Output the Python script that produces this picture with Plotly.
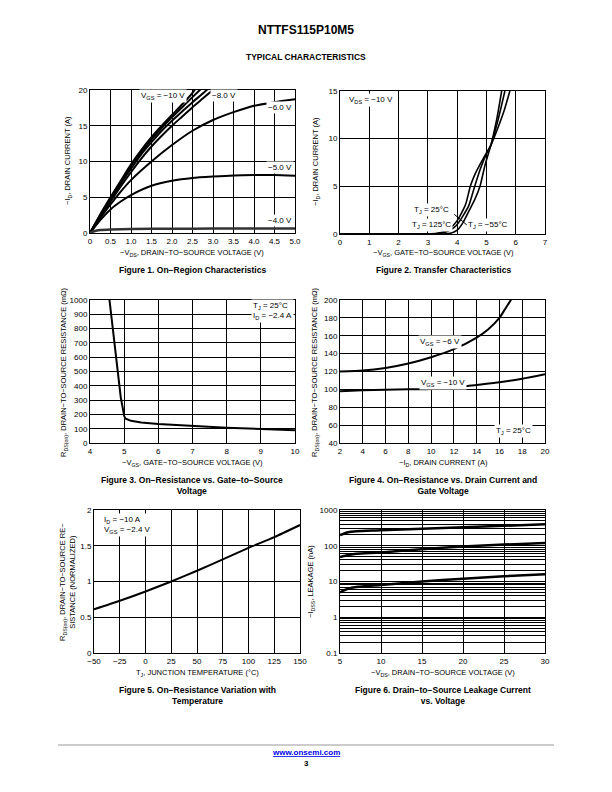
import plotly.graph_objects as go

W, H = 612, 792
FONT = "Liberation Sans, Arial, Helvetica, sans-serif"
OFF = 8  # page offset of the plot inside the browser window

# ---------------- Figure 1 data: On-region characteristics ----------------
f1_vgs10_x = [0, 0.25, 0.5, 0.75, 1.0, 1.25, 1.5, 1.75, 2.0, 2.25, 2.5, 2.6]
f1_vgs10_y = [0, 2.6, 5.0, 7.3, 9.6, 11.6, 13.4, 15.0, 16.5, 18.0, 19.6, 20.4]
f1_vgs9_x = [0, 0.25, 0.5, 0.75, 1.0, 1.25, 1.5, 1.75, 2.0, 2.25, 2.5, 2.75]
f1_vgs9_y = [0, 2.5, 4.85, 7.1, 9.3, 11.3, 13.1, 14.7, 16.2, 17.6, 19.0, 20.4]
f1_vgs8_x = [0, 0.25, 0.5, 0.75, 1.0, 1.25, 1.5, 1.75, 2.0, 2.25, 2.5, 2.75, 2.9]
f1_vgs8_y = [0, 2.4, 4.7, 6.9, 9.0, 11.0, 12.7, 14.3, 15.7, 17.0, 18.3, 19.5, 20.3]
f1_vgs7_x = [0, 0.25, 0.5, 0.75, 1.0, 1.25, 1.5, 1.75, 2.0, 2.25, 2.5, 2.75, 3.0, 3.1]
f1_vgs7_y = [0, 2.3, 4.4, 6.5, 8.5, 10.4, 12.1, 13.6, 15.0, 16.3, 17.6, 18.8, 20.0, 20.4]
f1_vgs6_x = [0, 0.25, 0.5, 0.75, 1.0, 1.5, 2.0, 2.5, 3.0, 3.5, 4.0, 4.5, 5.0]
f1_vgs6_y = [0, 2.1, 4.0, 5.8, 7.4, 10.0, 12.3, 14.3, 15.8, 16.9, 17.8, 18.3, 18.7]
f1_vgs5_x = [0, 0.25, 0.5, 0.75, 1.0, 1.5, 2.0, 2.5, 3.0, 3.5, 4.0, 4.5, 5.0]
f1_vgs5_y = [0, 1.8, 3.3, 4.4, 5.3, 6.6, 7.3, 7.7, 7.9, 8.05, 8.1, 8.1, 8.0]
f1_vgs4_x = [0, 0.1, 0.25, 0.5, 1.0, 2.0, 3.0, 4.0, 5.0]
f1_vgs4_y = [0, 0.25, 0.42, 0.5, 0.55, 0.6, 0.62, 0.63, 0.63]
f1_xticks = [0, 0.5, 1.0, 1.5, 2.0, 2.5, 3.0, 3.5, 4.0, 4.5, 5.0]
f1_xticklabels = ["0", "0.5", "1.0", "1.5", "2.0", "2.5", "3.0", "3.5", "4.0", "4.5", "5.0"]
f1_yticks = [0, 5, 10, 15, 20]

# ---------------- Figure 2 data: Transfer characteristics ----------------
f2_t125_x = [0, 3.0, 3.3, 3.6, 3.8, 4.0, 4.2, 4.3, 4.45, 4.6, 4.8, 5.0, 5.15, 5.4, 5.6, 5.8]
f2_t125_y = [0, 0.02, 0.08, 0.3, 0.7, 1.4, 2.5, 3.2, 5.0, 6.2, 7.4, 8.5, 9.3, 11.2, 12.9, 15.0]
f2_t25_x = [0, 3.0, 3.4, 3.7, 3.9, 4.0, 4.2, 4.4, 4.6, 4.8, 5.0, 5.15, 5.4, 5.63]
f2_t25_y = [0, 0.0, 0.05, 0.3, 0.7, 1.0, 1.9, 3.0, 5.0, 6.9, 8.4, 9.3, 12.0, 15.0]
f2_tm55_x = [0, 3.5, 3.8, 4.0, 4.2, 4.4, 4.6, 4.78, 4.95, 5.15, 5.35, 5.52]
f2_tm55_y = [0, 0.0, 0.1, 0.4, 1.2, 2.4, 3.6, 5.0, 7.2, 9.3, 12.0, 15.0]
f2_xticks = [0, 1, 2, 3, 4, 5, 6, 7]
f2_yticks = [0, 5, 10, 15]

# ---------------- Figure 3 data: RDS(on) vs VGS ----------------
f3_x = [4.57, 4.7, 4.8, 4.9, 5.0, 5.03, 5.2, 5.5, 6.0, 7.0, 8.0, 9.0, 10.0]
f3_y = [1000, 720, 500, 320, 190, 172, 155, 143, 132, 117, 106, 98, 90]
f3_xticks = [4, 5, 6, 7, 8, 9, 10]
f3_yticks = [0, 100, 200, 300, 400, 500, 600, 700, 800, 900, 1000]

# ---------------- Figure 4 data: RDS(on) vs ID ----------------
f4_vgs6_x = [2, 4, 6, 8, 10, 12, 14, 15, 16, 16.5, 17, 17.2]
f4_vgs6_y = [120, 121, 124, 129, 136, 145, 158, 167, 180, 190, 200, 205]
f4_vgs10_x = [2, 4, 6, 8, 10, 12, 14, 16, 18, 20]
f4_vgs10_y = [98, 99, 99.5, 100, 100.5, 102, 105, 108, 112, 117]
f4_xticks = [2, 4, 6, 8, 10, 12, 14, 16, 18, 20]
f4_yticks = [40, 60, 80, 100, 120, 140, 160, 180, 200]

# ---------------- Figure 5 data: RDS(on) vs TJ ----------------
f5_x = [-50, -25, 0, 25, 50, 75, 100, 125, 150]
f5_y = [0.61, 0.73, 0.86, 1.0, 1.15, 1.31, 1.47, 1.62, 1.79]
f5_xticks = [-50, -25, 0, 25, 50, 75, 100, 125, 150]
f5_yticks = [0, 0.5, 1, 1.5, 2]

# ---------------- Figure 6 data: IDSS leakage ----------------
f6_t150_x = [5, 6, 7, 10, 15, 20, 25, 30]
f6_t150_y = [200, 240, 255, 270, 300, 330, 360, 400]
f6_t125_x = [5, 6, 7, 10, 15, 20, 25, 30]
f6_t125_y = [48, 55, 60, 65, 80, 95, 108, 120]
f6_t85_x = [5, 6, 7, 10, 15, 20, 25, 30]
f6_t85_y = [5, 6.3, 7, 8, 10, 12, 14, 16]
f6_xticks = [5, 10, 15, 20, 25, 30]
f6_yticks = [0.1, 1, 10, 100, 1000]
f6_yticklabels = ["0.1", "1", "10", "100", "1000"]


def px(x):
    return (x - OFF) / W


def py(y):
    return 1 - (y - OFF) / H


fig = go.Figure()

LINE = dict(color="black", width=2)


def add(xs, ys, n, width=2, color="black"):
    fig.add_trace(go.Scatter(x=xs, y=ys, mode="lines", xaxis="x" + n, yaxis="y" + n,
                             line=dict(color=color, width=width, shape="spline", smoothing=0.6),
                             showlegend=False, hoverinfo="skip"))


add(f1_vgs10_x, f1_vgs10_y, "")
add(f1_vgs9_x, f1_vgs9_y, "")
add(f1_vgs8_x, f1_vgs8_y, "")
add(f1_vgs7_x, f1_vgs7_y, "")
add(f1_vgs6_x, f1_vgs6_y, "")
add(f1_vgs5_x, f1_vgs5_y, "")
add(f1_vgs4_x, f1_vgs4_y, "", width=2.5, color="#333333")

add(f2_t125_x, f2_t125_y, "2", width=1.6)
add(f2_t25_x, f2_t25_y, "2", width=1.6)
add(f2_tm55_x, f2_tm55_y, "2", width=1.6)

fig.add_trace(go.Scatter(x=f3_x, y=f3_y, mode="lines", xaxis="x3", yaxis="y3",
                         line=LINE, showlegend=False, hoverinfo="skip"))

add(f4_vgs6_x, f4_vgs6_y, "4")
add(f4_vgs10_x, f4_vgs10_y, "4")

add(f5_x, f5_y, "5")

add(f6_t150_x, f6_t150_y, "6", width=2.5)
add(f6_t125_x, f6_t125_y, "6", width=2.5)
add(f6_t85_x, f6_t85_y, "6", width=2.5)

TICKFONT = dict(family=FONT, size=8, color="black")


def axes(n, xd, yd, xr, yr, xt, yt, xtl=None, ytl=None, ylog=False):
    xa = dict(domain=[px(xd[0]), px(xd[1])], range=xr, anchor="y" + n,
              tickvals=xt, showgrid=True, gridcolor="black", gridwidth=1,
              showline=True, mirror=True, linecolor="black", linewidth=1,
              ticks="", tickfont=TICKFONT, zeroline=False, fixedrange=True,
              automargin=False)
    if xtl:
        xa["ticktext"] = xtl
    ya = dict(domain=[py(yd[1]), py(yd[0])], range=yr, anchor="x" + n,
              tickvals=yt, showgrid=True, gridcolor="black", gridwidth=1,
              showline=True, mirror=True, linecolor="black", linewidth=1,
              ticks="", tickfont=TICKFONT, zeroline=False, fixedrange=True,
              automargin=False)
    if ytl:
        ya["ticktext"] = ytl
    if ylog:
        ya["type"] = "log"
        ya["minor"] = dict(dtick="D1", showgrid=True, gridcolor="black", gridwidth=1)
    fig.update_layout(**{"xaxis" + n: xa, "yaxis" + n: ya})


axes("", (90, 295), (90, 233), [0, 5], [0, 20], f1_xticks, f1_yticks, f1_xticklabels)
axes("2", (340, 545), (91, 234), [0, 7], [0, 15], f2_xticks, f2_yticks)
axes("3", (90, 295), (300, 443), [4, 10], [0, 1000], f3_xticks, f3_yticks)
axes("4", (340, 545), (300, 443), [2, 20], [40, 200], f4_xticks, f4_yticks)
axes("5", (94, 300), (510, 653), [-50, 150], [0, 2], f5_xticks, f5_yticks)
axes("6", (340, 545), (510, 653), [5, 30], [-1, 3], f6_xticks, f6_yticks, None, f6_yticklabels, ylog=True)

ann = []


def T(x, y, text, size=8, bold=False, angle=0, color="black", xanchor="center", yanchor="middle"):
    if bold:
        text = "<b>" + text + "</b>"
    ann.append(dict(x=px(x), y=py(y), xref="paper", yref="paper", text=text, showarrow=False,
                    textangle=angle, font=dict(family=FONT, size=size, color=color),
                    xanchor=xanchor, yanchor=yanchor, align="center"))


def D(n, x, y, text, xanchor="center", align="center"):
    ann.append(dict(x=x, y=y, xref="x" + n, yref="y" + n, text=text, showarrow=False,
                    font=dict(family=FONT, size=8, color="black"), bgcolor="white",
                    xanchor=xanchor, yanchor="middle", align=align, borderpad=1))


# Header
T(306, 30, "NTTFS115P10M5", size=12, bold=True)
T(306, 57, "TYPICAL CHARACTERISTICS", size=8.5, bold=True)

# Figure 1
T(68, 161, "−I<sub>D</sub>, DRAIN CURRENT (A)", angle=-90, size=7.5)
T(192, 253, "−V<sub>DS</sub>, DRAIN−TO−SOURCE VOLTAGE (V)", size=7.5)
T(192, 270, "Figure 1. On−Region Characteristics", size=8.5, bold=True)
D("", 1.78, 19.2, "V<sub>GS</sub> = −10 V")
D("", 3.28, 19.3, "−8.0 V")
D("", 4.63, 17.5, "−6.0 V")
D("", 4.63, 9.1, "−5.0 V")
D("", 4.63, 1.8, "−4.0 V")

# Figure 2
T(316, 162, "−I<sub>D</sub>, DRAIN CURRENT (A)", angle=-90, size=7.5)
T(443, 253, "−V<sub>GS</sub>, GATE−TO−SOURCE VOLTAGE (V)", size=7.5)
T(443, 270, "Figure 2. Transfer Characteristics", size=8.5, bold=True)
D("2", 0.25, 14.1, "V<sub>DS</sub> = −10 V", xanchor="left")
D("2", 3.13, 2.5, "T<sub>J</sub> = 25°C")
D("2", 3.13, 0.95, "T<sub>J</sub> = 125°C")
D("2", 5.05, 0.95, "T<sub>J</sub> = −55°C")
ann.append(dict(x=4.33, y=0.95, xref="x2", yref="y2", ax=3.85, ay=2.2, axref="x2", ayref="y2",
                showarrow=True, arrowhead=0, arrowwidth=1, arrowcolor="black", text=""))

# Figure 3
T(64, 372, "R<sub>DS(on)</sub>, DRAIN−TO−SOURCE RESISTANCE (mΩ)", angle=-90, size=7.5)
T(192, 463, "−V<sub>GS</sub>, GATE−TO−SOURCE VOLTAGE (V)", size=7.5)
T(192, 486, "Figure 3. On−Resistance vs. Gate−to−Source<br>Voltage", size=8.5, bold=True)
D("3", 8.72, 920, "T<sub>J</sub> = 25°C<br>I<sub>D</sub> = −2.4 A", xanchor="left", align="left")

# Figure 4
T(315, 372, "R<sub>DS(on)</sub>, DRAIN−TO−SOURCE RESISTANCE (mΩ)", angle=-90, size=7.5)
T(443, 463, "−I<sub>D</sub>, DRAIN CURRENT (A)", size=7.5)
T(443, 486, "Figure 4. On−Resistance vs. Drain Current and<br>Gate Voltage", size=8.5, bold=True)
D("4", 10.8, 153, "V<sub>GS</sub> = −6 V")
D("4", 11.0, 107, "V<sub>GS</sub> = −10 V")
D("4", 17.2, 53, "T<sub>J</sub> = 25°C")

# Figure 5
T(67, 582, "R<sub>DS(on)</sub>, DRAIN−TO−SOURCE RE−<br>SISTANCE (NORMALIZED)", angle=-90, size=7.5)
T(197, 673, "T<sub>J</sub>, JUNCTION TEMPERATURE (°C)", size=7.5)
T(197, 695, "Figure 5. On−Resistance Variation with<br>Temperature", size=8.5, bold=True)
D("5", -42, 1.79, "I<sub>D</sub> = −10 A<br>V<sub>GS</sub> = −2.4 V", xanchor="left", align="left")

# Figure 6
T(311, 582, "−I<sub>DSS</sub>, LEAKAGE (nA)", angle=-90, size=7.5)
T(443, 673, "−V<sub>DS</sub>, DRAIN−TO−SOURCE VOLTAGE (V)", size=7.5)
T(443, 695, "Figure 6. Drain−to−Source Leakage Current<br>vs. Voltage", size=8.5, bold=True)
D("6", 17.4, 228, "T<sub>J</sub> = 150°C")
D("6", 17.4, 55, "T<sub>J</sub> = 125°C")
D("6", 17.4, 6.5, "T<sub>J</sub> = 85°C")

# Footer
T(306, 752, "<span style='text-decoration:underline'>www.onsemi.com</span>", size=8, bold=True, color="#0000EE")
T(306, 763, "3", size=8, bold=True)

fig.update_layout(
    width=W, height=H, margin=dict(l=0, r=0, t=0, b=0, pad=0, autoexpand=False),
    paper_bgcolor="white", plot_bgcolor="white",
    annotations=ann, showlegend=False,
    shapes=[dict(type="line", xref="paper", yref="paper", x0=px(58), x1=px(554), y0=py(745), y1=py(745),
                 line=dict(color="#999999", width=1))],
)

fig.write_html("out.html")
